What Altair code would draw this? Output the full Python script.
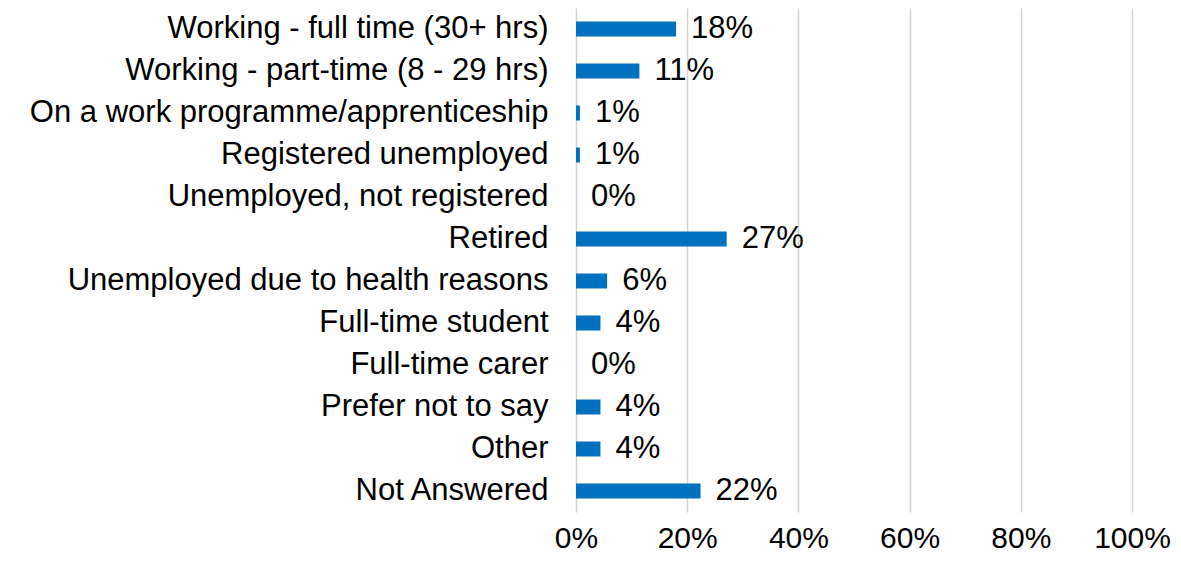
import altair as alt
import pandas as pd

categories = [
    "Working - full time (30+ hrs)",
    "Working - part-time (8 - 29 hrs)",
    "On a work programme/apprenticeship",
    "Registered unemployed",
    "Unemployed, not registered",
    "Retired",
    "Unemployed due to health reasons",
    "Full-time student",
    "Full-time carer",
    "Prefer not to say",
    "Other",
    "Not Answered",
]
values = [18.0, 11.4, 0.7, 0.7, 0.0, 27.1, 5.6, 4.4, 0.0, 4.4, 4.4, 22.4]
tick_values = [0, 20, 40, 60, 80, 100]

df = pd.DataFrame({"category": categories, "value": values})

FONT = "Liberation Sans"
FS = 31
COLOR = "#0070C0"

y_enc = alt.Y(
    "category:N",
    sort=categories,
    scale=alt.Scale(paddingInner=0, paddingOuter=0),
    axis=alt.Axis(
        title=None, ticks=False, domain=False, grid=False,
        labelFont=FONT, labelFontSize=FS, labelColor="#000000",
        labelPadding=28, labelLimit=700,
    ),
)
x_enc = alt.X(
    "value:Q",
    scale=alt.Scale(domain=[0, 100], nice=False),
    axis=alt.Axis(
        title=None, values=tick_values, labelExpr="datum.value + '%'",
        ticks=False, domain=False, grid=True, gridColor="#d4d4d4", gridWidth=1.5,
        labelFont=FONT, labelFontSize=30, labelColor="#000000", labelPadding=11,
        labelFlush=False,
    ),
)

bars = alt.Chart(df).mark_bar(color=COLOR, size=15).encode(x=x_enc, y=y_enc)

labels = alt.Chart(df).transform_calculate(
    lbl="format(datum.value, '.0f') + '%'"
).mark_text(
    align="left", baseline="middle", dx=15, font=FONT, fontSize=FS, color="#000000"
).encode(
    x=alt.X("value:Q"),
    y=alt.Y("category:N", sort=categories),
    text="lbl:N",
)

chart = (bars + labels).properties(
    width=556,
    height=504,
    background="white",
    autosize=alt.AutoSizeParams(type="none"),
    padding={"left": 568, "top": 0, "right": 40, "bottom": 44},
).configure_view(stroke=None)

chart.save("out.html", embed_options={"renderer": "svg", "actions": False})
